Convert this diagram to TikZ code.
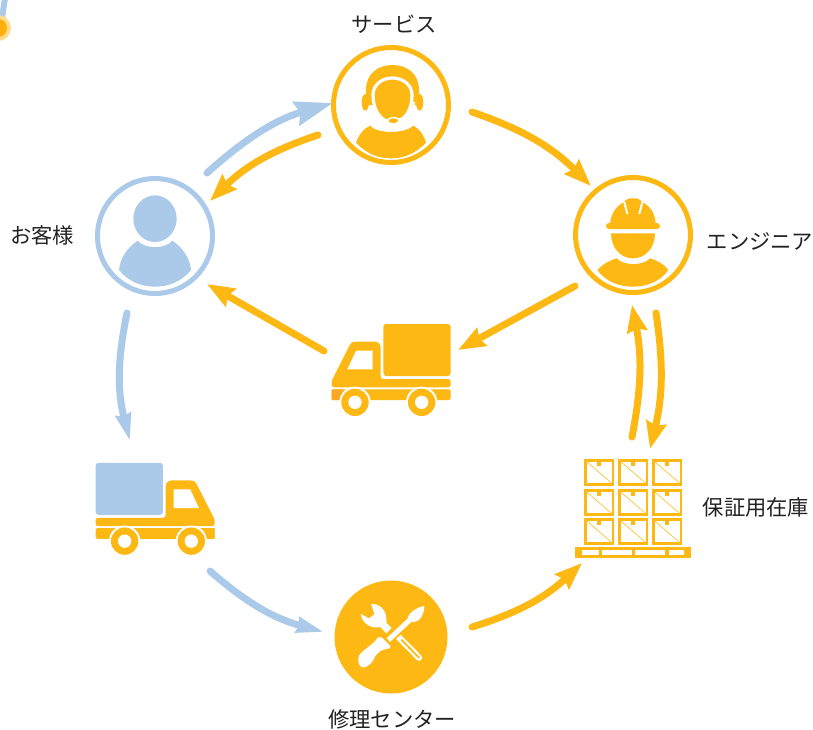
\documentclass[tikz,border=0pt]{standalone}
\usepackage{fontspec}
\setmainfont{Noto Sans CJK JP}
\usetikzlibrary{arrows.meta}
\definecolor{org}{HTML}{FDB813}
\definecolor{orgd}{HTML}{F9A825}
\definecolor{blu}{HTML}{ABCAE9}
\definecolor{txt}{HTML}{222222}
\tikzset{
  ring/.style={circle,draw=#1,line width=5pt,minimum size=115pt,inner sep=0pt,outer sep=0pt},
  spot/.style={circle,fill=org,minimum size=113pt,inner sep=0pt,outer sep=0pt},
  slot/.style={inner sep=0pt,outer sep=0pt,minimum width=120pt,minimum height=90pt},
  lbl/.style={font=\fontsize{21.3pt}{25pt}\selectfont,text=txt,inner sep=0pt},
  oarrow/.style={draw=org,line width=7pt,line cap=round,-{Stealth[length=27pt,width=20pt,inset=3pt,fill=org]}},
  barrow/.style={draw=blu,line width=7pt,line cap=round,-{Stealth[length=27pt,width=15pt,inset=1.5pt,fill=blu]}},
  bigbarrow/.style={draw=blu,line width=7pt,line cap=round,-{Stealth[length=38pt,width=24pt,inset=4pt,fill=blu]}},
  zoomed/.style={x=0.33333pt,y=-0.33333pt}
}
\newcommand{\drawtruck}[2]{
  \fill[#1,rounded corners=3pt] (190,42) rectangle (392,198);
  \fill[org,rounded corners=2.5pt] (35,232) -- (35,212) -- (92,100) -- (100,95) -- (172,95) -- (182,105) -- (182,207) -- (392,207) -- (392,232) -- cycle;
  \fill[white] (108,122) -- (158,122) -- (158,178) -- (82,178) -- cycle;
  \fill[org,rounded corners=2pt] (35,238) -- (392,238) -- (392,270) -- (35,270) -- cycle;
  \fill[#2] (35,238) -- (70,238) -- (62,270) -- (35,270) -- cycle;
  \foreach \wx in {105,305}{
    \fill[white] (\wx,277) circle[radius=47];
    \fill[org] (\wx,277) circle[radius=41];
    \fill[white] (\wx,277) circle[radius=20];
  }
}
\begin{document}
\begin{tikzpicture}[x=1pt,y=-1pt]
\useasboundingbox (0,0) rectangle (813,729);

% corner fragment
\draw[blu,line width=6pt] (5,-2) -- (2,18);
\fill[org!50!white] (-2,28) circle[radius=13];
\fill[org!85!orange] (-2,28) circle[radius=9];

% nodes
\node[ring=org] (svc) at (391,105) {};
\node[ring=org] (eng) at (633,235) {};
\node[ring=blu] (cust) at (155,236) {};
\node[spot] (rep) at (391,637) {};
\node[slot] (truckO) at (391,368) {};
\node[slot] (truckB) at (155,507) {};
\node[slot] (pallet) at (633,510) {};

% labels
\node[lbl] (lsvc) at (394,24) {サービス};
\node[lbl] (leng) at (760,241) {エンジニア};
\node[lbl] (lcust) at (42,235) {お客様};
\node[lbl] (lpal) at (756,507) {保証用在庫};
\node[lbl] (lrep) at (392,719) {修理センター};

% service icon
\begin{scope}[shift={(320,30)},zoomed]
  \fill[org] (108,338) .. controls (118,312) and (130,297) .. (150,287) .. controls (170,312) and (255,312) .. (280,287) .. controls (298,297) and (310,312) .. (318,338) .. controls (285,372) and (250,385) .. (213,385) .. controls (175,385) and (140,372) .. (108,338) -- cycle;
\end{scope}
\begin{scope}[shift={(355,60)},x=0.33333pt,y=-0.33333pt]
  \fill[org] (33,135) -- (33,90) .. controls (33,40) and (70,15) .. (112,15) .. controls (155,15) and (192,40) .. (192,90) -- (192,135) -- cycle;
  \fill[org] (31,127) ellipse[x radius=11,y radius=25];
  \fill[org] (194,127) ellipse[x radius=11,y radius=25];
  \path[fill=org,draw=white,line width=3.2pt] (54,105) .. controls (54,75) and (80,54) .. (112,54) .. controls (145,54) and (171,75) .. (171,105) .. controls (171,150) and (150,186) .. (112,186) .. controls (76,186) and (54,150) .. (54,105) -- cycle;
  \draw[white,line width=1.5pt] (178,125) .. controls (176,150) and (158,172) .. (130,178);
  \path[fill=org,draw=white,line width=1.4pt] (115,182) ellipse[x radius=18,y radius=9];
\end{scope}

% engineer icon
\begin{scope}[shift={(565,170)},zoomed]
  \fill[org,rounded corners=2pt] (135,165) .. controls (138,125) and (160,105) .. (180,95) -- (186,85) -- (222,85) -- (228,95) .. controls (250,105) and (270,125) .. (272,165) -- cycle;
  \fill[org,rounded corners=3pt] (123,159) rectangle (285,177);
  \fill[white] (175,97) -- (181,95) -- (190,132) -- (184,132) -- cycle;
  \fill[white] (235,97) -- (229,95) -- (220,132) -- (226,132) -- cycle;
  \fill[org] (138,190) -- (270,190) .. controls (270,235) and (240,265) .. (204,265) .. controls (168,265) and (138,235) .. (138,190) -- cycle;
  \fill[org] (97,300) .. controls (112,283) and (132,272) .. (155,265) .. controls (175,288) and (235,288) .. (255,265) .. controls (278,272) and (298,283) .. (310,300) .. controls (285,335) and (245,350) .. (204,350) .. controls (162,350) and (122,335) .. (97,300) -- cycle;
\end{scope}

% customer icon
\begin{scope}[shift={(85,170)},zoomed]
  \fill[blu] (210,146) ellipse[x radius=65,y radius=70];
  \fill[blu] (102,300) .. controls (106,262) and (128,232) .. (158,212) .. controls (180,238) and (240,238) .. (262,212) .. controls (292,232) and (314,262) .. (318,300) .. controls (290,335) and (250,350) .. (210,350) .. controls (170,350) and (130,335) .. (102,300) -- cycle;
\end{scope}

% orange truck
\begin{scope}[shift={(320,310)},zoomed]
  \drawtruck{org}{orgd}
\end{scope}

% blue truck, mirrored
\begin{scope}[shift={(226.3,448.8)},x=-0.33333pt,y=-0.33333pt]
  \drawtruck{blu}{org}
\end{scope}

% pallet icon
\begin{scope}[shift={(565,450)},zoomed]
  \foreach \bx in {57,159,261}{
    \foreach \by in {27,118,205}{
      \draw[org,line width=2.6pt] (\bx+4,\by+4) rectangle (\bx+87,\by+76);
      \fill[org] (\bx+40,\by+4) rectangle (\bx+51,\by+20);
      \draw[org!85!white,line width=0.7pt] (\bx+6,\by+6) -- (\bx+85,\by+74);
    }
  }
  \fill[org] (30,291) rectangle (378,300);
  \fill[org] (30,315) rectangle (378,324);
  \foreach \px/\pw in {30/20,101/11,200/11,300/11,358/20}{
    \fill[org] (\px,291) rectangle (\px+\pw,324);
  }
\end{scope}

% tools icon
\begin{scope}[shift={(345,590)},x=0.33333pt,y=-0.33333pt]
  % wrench
  \draw[white,line width=6.2pt,line cap=round] (150,130) -- (222,203);
  \draw[org,line width=1.8pt,line cap=round] (170,150) -- (222,203);
  \fill[white] (47,72) -- (72,85) -- (88,72) -- (78,42) .. controls (105,40) and (128,62) .. (124,98) -- (140,114) -- (124,130) -- (106,111) .. controls (80,118) and (50,100) .. (47,72) -- cycle;
  % screwdriver
  \draw[org,line width=8.5pt] (115,165) -- (205,80);
  \draw[white,line width=5pt] (130,150) -- (205,80);
  \fill[white] (238,48) .. controls (238,65) and (232,80) .. (222,90) -- (205,97) -- (188,82) .. controls (195,65) and (215,52) .. (238,48) -- cycle;
  \fill[white] (98,143) .. controls (103,140) and (108,141) .. (112,144) -- (136,168) .. controls (137,173) and (134,176) .. (130,176) .. controls (110,178) and (100,185) .. (90,200) .. controls (80,225) and (60,235) .. (52,232) .. controls (42,228) and (36,215) .. (42,198) .. controls (50,180) and (85,165) .. (98,143) -- cycle;
\end{scope}

% connectors
\draw[bigbarrow] ([shift={(52,-63)}]cust.center) to[bend left=13] ([shift={(-58,-2)}]svc.center);
\draw[oarrow] ([shift={(-73,30)}]svc.center) to[bend right=13] ([shift={(55,-35)}]cust.center);
\draw[oarrow] ([shift={(81,7)}]svc.center) to[bend left=13] ([shift={(-42,-49)}]eng.center);
\draw[oarrow] ([shift={(-58,51)}]eng.center) -- ([shift={(67,-18)}]truckO.center);
\draw[oarrow] ([shift={(-67,-17)}]truckO.center) -- ([shift={(52,48)}]cust.center);
\draw[barrow] ([shift={(-28,77)}]cust.center) to[bend right=13] ([shift={(-25,-66)}]truckB.center);
\draw[barrow] ([shift={(55,64)}]truckB.center) to[bend right=13] ([shift={(-67,-5)}]rep.center);
\draw[oarrow] ([shift={(81,-10)}]rep.center) to[bend right=13] ([shift={(-51,53)}]pallet.center);
\draw[oarrow] ([shift={(-1,-73)}]pallet.center) to[bend right=11] ([shift={(-1,70)}]eng.center);
\draw[oarrow] ([shift={(23,78)}]eng.center) to[bend left=11] ([shift={(17,-61)}]pallet.center);
\end{tikzpicture}
\end{document}
